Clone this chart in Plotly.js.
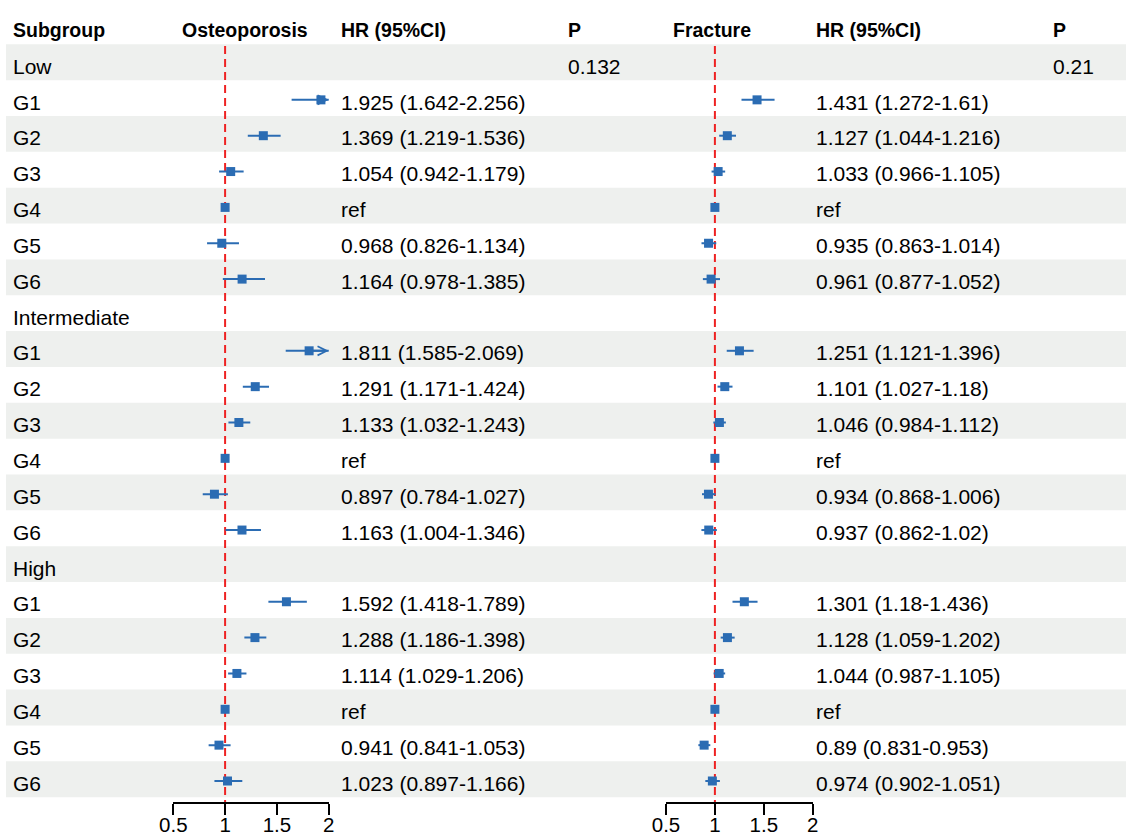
<!DOCTYPE html>
<html><head><meta charset="utf-8">
<script src="https://cdn.plot.ly/plotly-3.0.1.min.js"></script>
<style>html,body{margin:0;padding:0;background:#fff}#chart{width:1126px;height:838px}</style>
</head><body><div id="chart"></div>
<script>
// ---------- data ----------
const riskGroups = ['Low', 'Intermediate', 'High'];
const subgroups = ['G1', 'G2', 'G3', 'G4', 'G5', 'G6'];
const pOsteo = ['0.132', '', ''];
const pFracture = ['0.21', '', ''];

const osteoHR = [1.925, 1.369, 1.054, 1, 0.968, 1.164,
                 1.811, 1.291, 1.133, 1, 0.897, 1.163,
                 1.592, 1.288, 1.114, 1, 0.941, 1.023];
const osteoLo = [1.642, 1.219, 0.942, null, 0.826, 0.978,
                 1.585, 1.171, 1.032, null, 0.784, 1.004,
                 1.418, 1.186, 1.029, null, 0.841, 0.897];
const osteoHi = [2.256, 1.536, 1.179, null, 1.134, 1.385,
                 2.069, 1.424, 1.243, null, 1.027, 1.346,
                 1.789, 1.398, 1.206, null, 1.053, 1.166];

const fracHR = [1.431, 1.127, 1.033, 1, 0.935, 0.961,
                1.251, 1.101, 1.046, 1, 0.934, 0.937,
                1.301, 1.128, 1.044, 1, 0.89, 0.974];
const fracLo = [1.272, 1.044, 0.966, null, 0.863, 0.877,
                1.121, 1.027, 0.984, null, 0.868, 0.862,
                1.18, 1.059, 0.987, null, 0.831, 0.902];
const fracHi = [1.61, 1.216, 1.105, null, 1.014, 1.052,
                1.396, 1.18, 1.112, null, 1.006, 1.02,
                1.436, 1.202, 1.105, null, 0.953, 1.051];

const tickVals = [0.5, 1, 1.5, 2];
const headers = ['Subgroup', 'Osteoporosis', 'HR (95%CI)', 'P', 'Fracture', 'HR (95%CI)', 'P'];

// ---------- styling / layout constants ----------
const BLUE = '#2b6cb3';
const RED = '#ee2222';
const BAND = '#eef0ee';
const FONT = 'Liberation Sans, Arial, sans-serif';
const FS = 21;       // body text
const FSH = 19.5;    // header text
const TXT = 0.06;    // small vertical text offset (rows)
const AXMAX = 2;
const W = 1126;
const px = v => v / W;

// row index for each data point
const dataRows = [];
const labelRows = [];
riskGroups.forEach((g, gi) => {
  labelRows.push({ text: g, row: gi * 7, p1: pOsteo[gi], p2: pFracture[gi] });
  subgroups.forEach((s, si) => {
    labelRows.push({ text: s, row: gi * 7 + si + 1 });
    dataRows.push(gi * 7 + si + 1);
  });
});
const nRows = labelRows.length;

function ciTrace(lo, hi, xa) {
  const x = [], y = [];
  lo.forEach((l, i) => {
    if (l === null) return;
    x.push(l, hi[i], null);
    y.push(dataRows[i], dataRows[i], null);
  });
  return { type: 'scatter', mode: 'lines', x, y, xaxis: xa, yaxis: 'y',
           line: { color: BLUE, width: 2 }, hoverinfo: 'skip', showlegend: false };
}
function ptTrace(hr, xa) {
  return { type: 'scatter', mode: 'markers', x: hr, y: dataRows, xaxis: xa, yaxis: 'y',
           marker: { symbol: 'square', size: 9, color: BLUE }, cliponaxis: false,
           hoverinfo: 'skip', showlegend: false };
}
function hrText(hr, lo, hi, i) {
  return lo[i] === null ? 'ref' : `${hr[i]} (${lo[i]}-${hi[i]})`;
}

const traces = [
  ciTrace(osteoLo, osteoHi, 'x'), ptTrace(osteoHR, 'x'),
  ciTrace(fracLo, fracHi, 'x2'), ptTrace(fracHR, 'x2')
];

// shapes: row bands + reference lines
const shapes = [];
for (let r = 0; r < nRows; r += 2) {
  shapes.push({ type: 'rect', xref: 'paper', yref: 'y', x0: px(6), x1: 1,
                y0: r - 0.55, y1: r + 0.45, fillcolor: BAND, line: { width: 0 }, layer: 'below' });
}
['x', 'x2'].forEach(xa => {
  shapes.push({ type: 'line', xref: xa, yref: 'y', x0: 1, x1: 1, y0: -0.5, y1: 20.62,
                line: { color: RED, width: 2, dash: '8px,5px' }, layer: 'below' });
});

// annotations: text table
const ann = [];
const colX = { sub: px(11), ost: px(245), hr1: px(339), p1: px(566), fra: px(712), hr2: px(814), p2: px(1051) };
const hdrPos = [['sub', 'left'], ['ost', 'center'], ['hr1', 'left'], ['p1', 'left'],
                ['fra', 'center'], ['hr2', 'left'], ['p2', 'left']];
headers.forEach((h, i) => {
  ann.push({ text: '<b>' + h + '</b>', xref: 'paper', yref: 'y', x: colX[hdrPos[i][0]], y: -1 + TXT,
             xanchor: hdrPos[i][1], yanchor: 'middle', showarrow: false,
             font: { family: FONT, size: FSH, color: '#000' } });
});
function addText(t, x, r) {
  ann.push({ text: t, xref: 'paper', yref: 'y', x, y: r + TXT, xanchor: 'left', yanchor: 'middle',
             showarrow: false, font: { family: FONT, size: FS, color: '#000' } });
}
labelRows.forEach(lr => {
  addText(lr.text, colX.sub, lr.row);
  if (lr.p1) addText(lr.p1, colX.p1, lr.row);
  if (lr.p2) addText(lr.p2, colX.p2, lr.row);
});
dataRows.forEach((r, i) => {
  addText(hrText(osteoHR, osteoLo, osteoHi, i), colX.hr1, r);
  addText(hrText(fracHR, fracLo, fracHi, i), colX.hr2, r);
});
// arrows for CIs beyond the axis max
[[osteoHR, osteoHi, 'x'], [fracHR, fracHi, 'x2']].forEach(([hr, hi, xa]) => {
  hi.forEach((h, i) => {
    if (h !== null && h > AXMAX) {
      ann.push({ text: '', x: AXMAX, y: dataRows[i], xref: xa, yref: 'y',
                 ax: hr[i], ay: dataRows[i], axref: xa, ayref: 'y',
                 showarrow: true, arrowhead: 5, arrowsize: 0.9, arrowwidth: 2, arrowcolor: BLUE });
    }
  });
});

function xAxis(d0, d1) {
  return { domain: [px(d0), px(d1)], range: [0.5, 2], anchor: 'free', position: 1 - 803 / 838,
           showline: true, linecolor: '#000', linewidth: 2, ticks: 'outside', ticklen: 11,
           tickwidth: 2, tickcolor: '#000', tickvals: tickVals, showgrid: false, zeroline: false,
           ticklabelstandoff: -8,
           tickfont: { family: FONT, size: 20.5, color: '#000' }, fixedrange: true };
}

const layout = {
  width: 1126, height: 838,
  margin: { l: 0, r: 0, t: 0, b: 0 },
  paper_bgcolor: '#fff', plot_bgcolor: 'rgba(0,0,0,0)',
  showlegend: false,
  xaxis: xAxis(173.3, 328.7),
  xaxis2: xAxis(666, 812.7),
  yaxis: { domain: [0, 1], range: [(838 - 64) / 35.85, -64 / 35.85], visible: false, fixedrange: true },
  shapes, annotations: ann
};

Plotly.newPlot('chart', traces, layout, { displayModeBar: false, staticPlot: true });
</script></body></html>
